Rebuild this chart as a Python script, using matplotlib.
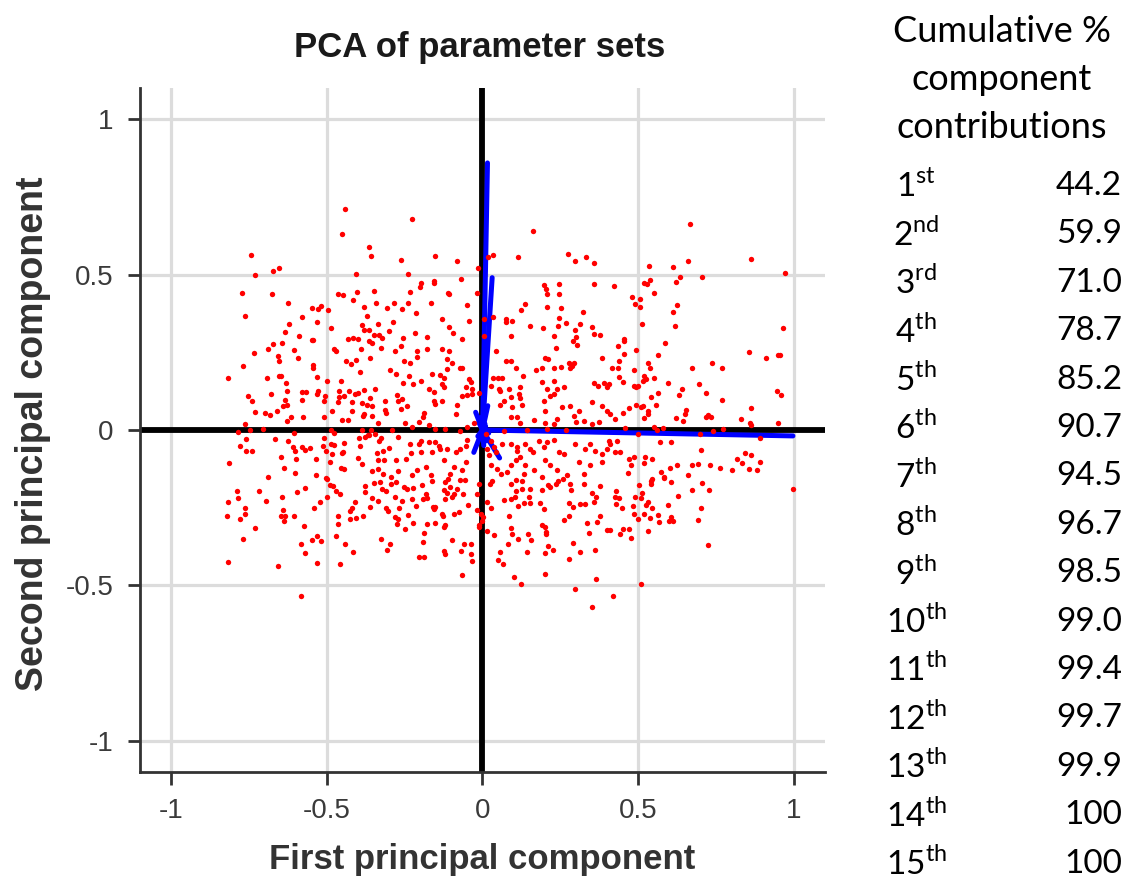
import numpy as np
import matplotlib.pyplot as plt

plt.rcParams['font.family'] = ['Liberation Sans', 'DejaVu Sans']
plt.rcParams['mathtext.fontset'] = 'custom'
plt.rcParams['mathtext.rm'] = 'Lato'

# PCA scores of the parameter sets (first, second component)
scores = [
    # upper left
    (-0.442, 0.71), (-0.225, 0.678), (-0.45, 0.63), (-0.366, 0.588), (-0.358, 0.559), (-0.261, 0.546),
    (-0.744, 0.562), (-0.732, 0.50), (-0.674, 0.511), (-0.652, 0.52), (-0.406, 0.502), (-0.24, 0.503),
    (-0.774, 0.44), (-0.677, 0.436), (-0.625, 0.409), (-0.764, 0.367), (-0.464, 0.438), (-0.449, 0.435),
    (-0.403, 0.443), (-0.347, 0.446), (-0.233, 0.445), (-0.415, 0.417), (-0.379, 0.397), (-0.341, 0.408),
    (-0.284, 0.41), (-0.24, 0.409), (-0.546, 0.392), (-0.528, 0.388), (-0.519, 0.399), (-0.495, 0.385),
    (-0.308, 0.391), (-0.26, 0.388), (-0.581, 0.363), (-0.623, 0.342), (-0.531, 0.347), (-0.372, 0.366),
    (-0.387, 0.339), (-0.337, 0.341), (-0.287, 0.346), (-0.487, 0.327), (-0.635, 0.316), (-0.588, 0.303),
    (-0.379, 0.322), (-0.364, 0.323), (-0.301, 0.318), (-0.254, 0.296), (-0.218, 0.313), (-0.432, 0.294),
    (-0.417, 0.296), (-0.399, 0.292), (-0.348, 0.305), (-0.331, 0.305), (-0.324, 0.296), (-0.546, 0.289),
    # upper middle
    (0.163, 0.639), (-0.153, 0.561), (-0.083, 0.544), (0.018, 0.558), (0.034, 0.563), (0.115, 0.558),
    (0.273, 0.567), (0.297, 0.545), (0.332, 0.556), (0.357, 0.537), (-0.013, 0.521), (-0.196, 0.473),
    (-0.201, 0.461), (-0.156, 0.48), (-0.156, 0.474), (-0.07, 0.487), (-0.111, 0.441), (-0.108, 0.438),
    (-0.017, 0.44), (0.198, 0.466), (0.205, 0.452), (0.207, 0.437), (0.247, 0.471), (0.247, 0.438),
    (0.359, 0.468), (-0.164, 0.409), (-0.051, 0.403), (0.138, 0.406), (0.123, 0.385), (0.207, 0.396),
    (0.251, 0.392), (0.322, 0.38), (-0.213, 0.376), (-0.13, 0.356), (-0.043, 0.352), (0.006, 0.356),
    (0.033, 0.364), (0.075, 0.356), (0.074, 0.347), (0.095, 0.349), (0.245, 0.36), (0.267, 0.345),
    (0.314, 0.34), (0.154, 0.333), (0.194, 0.327), (0.241, 0.335), (0.351, 0.331), (-0.109, 0.332),
    (-0.096, 0.313), (-0.177, 0.30), (-0.065, 0.292), (0.006, 0.302), (0.09, 0.303), (0.231, 0.302),
    (0.3, 0.3), (0.296, 0.321), (0.357, 0.31), (0.377, 0.304),
    # upper right
    (0.668, 0.663), (0.863, 0.55), (0.971, 0.505), (0.534, 0.527), (0.611, 0.524), (0.66, 0.543),
    (0.634, 0.493), (0.621, 0.477), (0.706, 0.493), (0.421, 0.463), (0.518, 0.473), (0.527, 0.468),
    (0.537, 0.483), (0.552, 0.442), (0.48, 0.427), (0.507, 0.421), (0.49, 0.406), (0.507, 0.395),
    (0.625, 0.402), (0.612, 0.378), (0.512, 0.34), (0.619, 0.335), (0.964, 0.329), (0.455, 0.292),
    # centre left
    (-0.544, 0.288), (-0.674, 0.278), (-0.644, 0.279), (-0.69, 0.262), (-0.735, 0.249), (-0.607, 0.256),
    (-0.477, 0.262), (-0.469, 0.254), (-0.39, 0.261), (-0.364, 0.286), (-0.354, 0.281), (-0.327, 0.265),
    (-0.28, 0.254), (-0.263, 0.271), (-0.657, 0.238), (-0.655, 0.222), (-0.77, 0.206), (-0.592, 0.233),
    (-0.543, 0.208), (-0.543, 0.201), (-0.438, 0.222), (-0.423, 0.211), (-0.407, 0.224), (-0.393, 0.187),
    (-0.362, 0.233), (-0.298, 0.193), (-0.278, 0.179), (-0.252, 0.222), (-0.233, 0.215), (-0.816, 0.168),
    (-0.692, 0.166), (-0.655, 0.174), (-0.647, 0.174), (-0.53, 0.169), (-0.5, 0.158), (-0.454, 0.158),
    (-0.631, 0.152), (-0.236, 0.173), (-0.254, 0.152), (-0.224, 0.148), (-0.752, 0.11), (-0.68, 0.116),
    (-0.627, 0.126), (-0.58, 0.123), (-0.568, 0.123), (-0.532, 0.117), (-0.528, 0.124), (-0.505, 0.11),
    (-0.461, 0.126), (-0.462, 0.107), (-0.444, 0.11), (-0.428, 0.126), (-0.411, 0.115), (-0.4, 0.119),
    (-0.38, 0.129), (-0.345, 0.131), (-0.273, 0.112), (-0.257, 0.099), (-0.741, 0.092), (-0.634, 0.096),
    (-0.64, 0.078), (-0.628, 0.079), (-0.58, 0.095), (-0.51, 0.094), (-0.465, 0.091), (-0.42, 0.091),
    (-0.388, 0.087), (-0.37, 0.08), (-0.354, 0.076), (-0.362, 0.102), (-0.314, 0.094), (-0.314, 0.064),
    (-0.311, 0.055), (-0.27, 0.094), (-0.263, 0.068), (-0.242, 0.078), (-0.73, 0.059), (-0.699, 0.054),
    (-0.683, 0.048), (-0.659, 0.061), (-0.615, 0.041), (-0.628, 0.028), (-0.578, 0.043), (-0.51, 0.043),
    (-0.482, 0.061), (-0.419, 0.06), (-0.45, 0.031), (-0.432, 0.032), (-0.385, 0.046), (-0.379, 0.051),
    (-0.354, 0.046), (-0.335, 0.023), (-0.25, 0.021), (-0.226, 0.011), (-0.764, 0.019), (-0.786, -0.008),
    (-0.747, 0.0), (-0.706, 0.002), (-0.607, -0.01), (-0.487, 0.0), (-0.477, -0.01), (-0.388, 0.0),
    (-0.357, 0.0), (-0.363, -0.016), (-0.292, 0.0), (-0.759, -0.03), (-0.778, -0.053), (-0.758, -0.066),
    (-0.74, -0.066), (-0.666, -0.028), (-0.624, -0.035), (-0.608, -0.056), (-0.601, -0.066), (-0.581, -0.056),
    (-0.569, -0.064), (-0.554, -0.058), (-0.51, -0.026), (-0.511, -0.053), (-0.503, -0.068), (-0.487, -0.045),
    (-0.476, -0.047), (-0.446, -0.043), (-0.447, -0.07), (-0.452, -0.075), (-0.482, -0.077), (-0.397, -0.027),
    (-0.376, -0.021), (-0.367, -0.016), (-0.393, -0.053), (-0.345, -0.013), (-0.332, -0.036), (-0.325, -0.027),
    (-0.3, -0.058), (-0.338, -0.075), (-0.321, -0.069), (-0.27, -0.021), (-0.232, -0.045), (-0.231, -0.075),
    (-0.813, -0.107), (-0.647, -0.087), (-0.636, -0.122), (-0.599, -0.093), (-0.534, -0.093), (-0.49, -0.103),
    (-0.456, -0.121), (-0.444, -0.125), (-0.401, -0.091), (-0.388, -0.11), (-0.356, -0.133), (-0.337, -0.098),
    (-0.316, -0.098), (-0.335, -0.125), (-0.277, -0.096), (-0.247, -0.093), (-0.27, -0.131), (-0.601, -0.139),
    (-0.69, -0.15), (-0.534, -0.146), (-0.503, -0.154), (-0.318, -0.141), (-0.295, -0.15), (-0.226, -0.146),
    # centre
    (-0.209, 0.254), (-0.177, 0.259), (-0.129, 0.259), (-0.108, 0.254), (-0.113, 0.228), (-0.097, 0.217),
    (-0.113, 0.196), (-0.072, 0.201), (-0.065, 0.198), (-0.209, 0.235), (-0.161, 0.179), (-0.137, 0.176),
    (-0.124, 0.168), (-0.129, 0.147), (-0.199, 0.158), (-0.044, 0.164), (-0.038, 0.153), (-0.054, 0.137),
    (-0.049, 0.113), (-0.033, 0.117), (-0.033, 0.131), (-0.065, 0.109), (-0.172, 0.131), (-0.156, 0.121),
    (-0.124, 0.137), (-0.156, 0.094), (-0.154, 0.083), (-0.129, 0.094), (-0.081, 0.08), (-0.012, 0.12),
    (0.042, 0.254), (0.074, 0.222), (0.09, 0.222), (0.106, 0.201), (0.034, 0.166), (0.049, 0.166),
    (0.063, 0.166), (0.026, 0.142), (0.052, 0.131), (0.057, 0.126), (0.084, 0.131), (0.122, 0.137),
    (0.09, 0.107), (0.117, 0.115), (0.122, 0.104), (0.13, 0.174), (0.173, 0.193), (0.191, 0.201),
    (0.202, 0.231), (0.21, 0.227), (0.229, 0.201), (0.252, 0.203), (0.277, 0.217), (0.287, 0.207),
    (0.28, 0.201), (0.293, 0.217), (0.236, 0.264), (0.29, 0.286), (0.303, 0.275), (0.383, 0.231),
    (0.191, 0.154), (0.207, 0.131), (0.229, 0.158), (0.239, 0.131), (0.261, 0.137), (0.218, 0.109),
    (0.229, 0.115), (0.357, 0.15), (0.371, 0.14), (0.389, 0.15), (0.4, 0.139), (0.352, 0.089),
    (0.383, 0.078), (0.4, 0.062), (0.057, 0.079), (0.07, 0.094), (0.095, 0.073), (0.127, 0.079),
    (0.197, 0.094), (0.2, 0.062), (0.255, 0.074), (0.282, 0.076), (0.309, 0.062), (0.293, 0.044),
    (-0.188, 0.056), (-0.19, 0.042), (-0.086, 0.051), (-0.172, 0.017), (-0.204, 0.025), (-0.151, 0.003),
    (-0.119, 0.003), (-0.071, -0.002), (-0.049, 0.011), (-0.028, 0.022), (0.09, 0.041), (0.111, 0.041),
    (0.122, 0.022), (0.165, 0.032), (0.202, 0.022), (0.229, 0.02), (0.239, 0.036), (0.269, 0.0),
    (0.301, 0.025), (0.325, 0.03), (0.352, 0.02), (0.373, 0.025), (0.068, -0.002), (0.143, 0.0),
    (0.207, 0.003), (-0.199, -0.034), (-0.204, -0.045), (-0.172, -0.04), (-0.151, -0.04), (-0.14, -0.05),
    (-0.135, -0.061), (-0.199, -0.072), (-0.161, -0.072), (-0.113, -0.061), (-0.086, -0.072), (-0.071, -0.061),
    (-0.054, -0.05), (-0.049, -0.032), (-0.183, -0.12), (-0.209, -0.13), (-0.124, -0.098), (-0.092, -0.12),
    (-0.065, -0.13), (-0.054, -0.104), (-0.167, -0.146), (-0.104, -0.141), (0.026, -0.034), (0.036, -0.056),
    (0.042, -0.072), (0.063, -0.045), (0.09, -0.045), (0.111, -0.056), (0.111, -0.066), (0.138, -0.045),
    (0.122, -0.088), (0.106, -0.098), (0.154, -0.061), (0.162, -0.072), (0.181, -0.034), (0.197, -0.056),
    (0.207, -0.04), (0.229, -0.032), (0.245, -0.072), (0.261, -0.077), (0.202, -0.096), (0.218, -0.114),
    (0.239, -0.13), (0.138, -0.114), (0.165, -0.13), (0.133, -0.141), (0.047, -0.125), (0.058, -0.141),
    (0.079, -0.136), (0.09, -0.114), (0.026, -0.114), (0.298, -0.045), (0.33, -0.061), (0.346, -0.045),
    (0.362, -0.066), (0.383, -0.077), (0.4, -0.061), (0.309, -0.104), (0.346, -0.114), (0.383, -0.104),
    (0.325, -0.141), (0.02, -0.082), (0.015, -0.061), (0.01, -0.013), (0.191, -0.151), (0.271, -0.146),
    # centre right
    (0.435, 0.27), (0.455, 0.286), (0.494, 0.257), (0.587, 0.281), (0.456, 0.245), (0.563, 0.24),
    (0.437, 0.222), (0.416, 0.2), (0.435, 0.198), (0.531, 0.215), (0.538, 0.201), (0.485, 0.194),
    (0.674, 0.199), (0.736, 0.215), (0.77, 0.198), (0.856, 0.252), (0.909, 0.23), (0.948, 0.24),
    (0.955, 0.241), (0.44, 0.172), (0.45, 0.155), (0.52, 0.174), (0.524, 0.164), (0.514, 0.158),
    (0.552, 0.166), (0.485, 0.142), (0.501, 0.142), (0.494, 0.137), (0.405, 0.147), (0.597, 0.15),
    (0.642, 0.131), (0.632, 0.113), (0.696, 0.147), (0.718, 0.118), (0.768, 0.097), (0.946, 0.124),
    (0.96, 0.112), (0.542, 0.105), (0.565, 0.119), (0.557, 0.081), (0.492, 0.081), (0.509, 0.075),
    (0.514, 0.077), (0.469, 0.07), (0.452, 0.054), (0.41, 0.051), (0.531, 0.062), (0.533, 0.053),
    (0.52, 0.038), (0.654, 0.065), (0.651, 0.051), (0.622, 0.038), (0.643, 0.03), (0.718, 0.041),
    (0.723, 0.047), (0.734, 0.043), (0.862, 0.07), (0.83, 0.035), (0.859, 0.024), (0.861, 0.016),
    (0.949, 0.024), (0.426, 0.035), (0.458, 0.008), (0.552, 0.01), (0.562, 0.001), (0.581, 0.005),
    (0.499, -0.013), (0.697, -0.014), (0.739, -0.003), (0.771, 0.004), (0.892, -0.026), (0.407, -0.035),
    (0.409, -0.045), (0.431, -0.035), (0.57, -0.037), (0.606, -0.037), (0.702, -0.064), (0.426, -0.072),
    (0.442, -0.07), (0.469, -0.093), (0.485, -0.088), (0.522, -0.086), (0.544, -0.093), (0.843, -0.075),
    (0.862, -0.08), (0.816, -0.093), (0.832, -0.107), (0.891, -0.102), (0.477, -0.111), (0.52, -0.107),
    (0.624, -0.111), (0.602, -0.122), (0.672, -0.114), (0.693, -0.109), (0.731, -0.114), (0.763, -0.122),
    (0.8, -0.13), (0.856, -0.125), (0.881, -0.128), (0.466, -0.139), (0.574, -0.136), (0.584, -0.15),
    (0.659, -0.146), (0.544, -0.157),
    # lower left
    (-0.5, -0.157), (-0.49, -0.176), (-0.48, -0.181), (-0.47, -0.197), (-0.458, -0.205), (-0.377, -0.181),
    (-0.377, -0.2), (-0.348, -0.171), (-0.33, -0.168), (-0.322, -0.189), (-0.311, -0.195), (-0.295, -0.173),
    (-0.279, -0.168), (-0.252, -0.184), (-0.241, -0.191), (-0.223, -0.186), (-0.788, -0.195), (-0.719, -0.197),
    (-0.784, -0.218), (-0.816, -0.232), (-0.694, -0.227), (-0.644, -0.214), (-0.596, -0.201), (-0.569, -0.185),
    (-0.521, -0.231), (-0.542, -0.251), (-0.5, -0.216), (-0.356, -0.218), (-0.335, -0.227), (-0.409, -0.232),
    (-0.418, -0.25), (-0.426, -0.259), (-0.362, -0.248), (-0.311, -0.251), (-0.303, -0.262), (-0.281, -0.216),
    (-0.26, -0.228), (-0.268, -0.25), (-0.226, -0.221), (-0.764, -0.252), (-0.762, -0.271), (-0.82, -0.278),
    (-0.778, -0.286), (-0.642, -0.258), (-0.647, -0.275), (-0.635, -0.278), (-0.637, -0.294), (-0.607, -0.275),
    (-0.465, -0.275), (-0.426, -0.287), (-0.407, -0.282), (-0.384, -0.275), (-0.464, -0.303), (-0.282, -0.28),
    (-0.27, -0.285), (-0.275, -0.301), (-0.238, -0.273), (-0.223, -0.299), (-0.249, -0.317), (-0.73, -0.314),
    (-0.572, -0.31), (-0.768, -0.35), (-0.531, -0.341), (-0.546, -0.355), (-0.518, -0.358), (-0.469, -0.34),
    (-0.583, -0.368), (-0.569, -0.396), (-0.441, -0.367), (-0.415, -0.391), (-0.325, -0.35), (-0.298, -0.368),
    (-0.307, -0.386), (-0.818, -0.423), (-0.656, -0.439), (-0.53, -0.428), (-0.459, -0.432), (-0.582, -0.535),
    # lower middle
    (-0.193, -0.178), (-0.183, -0.205), (-0.19, -0.221), (-0.177, -0.218), (-0.215, -0.245), (-0.161, -0.163),
    (-0.119, -0.168), (-0.111, -0.157), (-0.103, -0.184), (-0.124, -0.194), (-0.115, -0.203), (-0.121, -0.221),
    (-0.097, -0.216), (-0.092, -0.205), (-0.081, -0.189), (-0.071, -0.16), (-0.055, -0.162), (-0.062, -0.207),
    (-0.019, -0.205), (-0.012, -0.173), (-0.158, -0.248), (-0.151, -0.248), (-0.156, -0.253), (-0.179, -0.301),
    (-0.153, -0.298), (-0.129, -0.269), (-0.126, -0.278), (-0.119, -0.307), (-0.124, -0.312), (-0.092, -0.269),
    (-0.074, -0.264), (-0.047, -0.242), (-0.017, -0.256), (-0.006, -0.269), (0.002, -0.28), (-0.001, -0.293),
    (-0.012, -0.307), (-0.012, -0.312), (-0.188, -0.331), (-0.19, -0.36), (-0.204, -0.41), (-0.188, -0.408),
    (-0.124, -0.389), (-0.119, -0.4), (-0.099, -0.355), (-0.068, -0.39), (-0.058, -0.368), (-0.038, -0.368),
    (-0.038, -0.4), (-0.033, -0.422), (-0.065, -0.467), (0.029, -0.163), (0.023, -0.173), (0.09, -0.173),
    (0.106, -0.162), (0.127, -0.165), (0.127, -0.189), (0.152, -0.189), (0.109, -0.197), (0.103, -0.216),
    (0.09, -0.221), (0.068, -0.226), (0.015, -0.232), (0.028, -0.252), (0.149, -0.214), (0.152, -0.235),
    (0.133, -0.235), (0.115, -0.245), (0.191, -0.192), (0.209, -0.178), (0.218, -0.184), (0.244, -0.164),
    (0.237, -0.175), (0.258, -0.157), (0.282, -0.175), (0.285, -0.192), (0.325, -0.175), (0.351, -0.203),
    (0.359, -0.232), (0.378, -0.181), (0.364, -0.216), (0.33, -0.239), (0.314, -0.239), (0.29, -0.248),
    (0.277, -0.235), (0.186, -0.235), (0.197, -0.253), (0.084, -0.276), (0.092, -0.314), (0.095, -0.335),
    (0.113, -0.349), (0.036, -0.339), (0.015, -0.325), (0.145, -0.335), (0.156, -0.355), (0.191, -0.307),
    (0.202, -0.312), (0.205, -0.328), (0.205, -0.335), (0.261, -0.291), (0.277, -0.275), (0.335, -0.299),
    (0.367, -0.296), (0.376, -0.275), (0.341, -0.331), (0.401, -0.322), (0.082, -0.367), (0.055, -0.393),
    (0.049, -0.419), (0.066, -0.43), (0.143, -0.391), (0.209, -0.374), (0.226, -0.387), (0.202, -0.397),
    (0.29, -0.363), (0.312, -0.393), (0.36, -0.387), (0.277, -0.416), (0.1, -0.472), (0.2, -0.463),
    (0.124, -0.496), (0.364, -0.479), (0.296, -0.513), (0.352, -0.57),
    # lower right
    (0.584, -0.154), (0.541, -0.165), (0.541, -0.173), (0.605, -0.167), (0.504, -0.176), (0.704, -0.171),
    (0.674, -0.192), (0.728, -0.194), (0.428, -0.197), (0.424, -0.214), (0.439, -0.218), (0.512, -0.203),
    (0.51, -0.218), (0.49, -0.216), (0.627, -0.212), (0.996, -0.189), (0.428, -0.237), (0.447, -0.25),
    (0.483, -0.244), (0.526, -0.242), (0.533, -0.233), (0.544, -0.251), (0.595, -0.241), (0.701, -0.252),
    (0.488, -0.269), (0.501, -0.286), (0.52, -0.269), (0.539, -0.284), (0.563, -0.272), (0.567, -0.295),
    (0.6, -0.293), (0.607, -0.28), (0.611, -0.294), (0.693, -0.291), (0.408, -0.323), (0.451, -0.318),
    (0.471, -0.32), (0.441, -0.335), (0.476, -0.346), (0.533, -0.326), (0.724, -0.37), (0.508, -0.494),
    (0.42, -0.534),
]

# loading vectors of the 15 parameters on the first two components
loadings = [
    (0.997, -0.019), (0.016, 0.859), (0.031, 0.49), (0.055, -0.09), (-0.022, 0.057),
    (-0.028, -0.072), (0.017, 0.078), (0.012, -0.035), (-0.012, 0.025), (0.008, 0.02),
    (-0.015, -0.02), (0.02, -0.01), (-0.006, 0.04), (0.004, -0.05), (0.01, 0.012),
]

ordinals = ['1st', '2nd', '3rd', '4th', '5th', '6th', '7th', '8th',
            '9th', '10th', '11th', '12th', '13th', '14th', '15th']
cumulative = [44.2, 59.9, 71.0, 78.7, 85.2, 90.7, 94.5, 96.7,
              98.5, 99.0, 99.4, 99.7, 99.9, 100, 100]

W, H = 1137, 881
fig = plt.figure(figsize=(W / 100, H / 100), dpi=100)
ax = fig.add_axes([140 / W, 1 - 772 / H, 685 / W, 684 / H])

sc = np.array(scores)
ld = np.array(loadings)

ax.set_xlim(-1.1, 1.1)
ax.set_ylim(-1.1, 1.1)
ticks = [-1, -0.5, 0, 0.5, 1]
ax.set_xticks(ticks)
ax.set_yticks(ticks)
ax.set_xticklabels(['-1', '-0.5', '0', '0.5', '1'])
ax.set_yticklabels(['-1', '-0.5', '0', '0.5', '1'])
ax.grid(True, color='#dcdcdc', linewidth=2.3, zorder=0)
ax.set_axisbelow(True)

for s in ['top', 'right']:
    ax.spines[s].set_visible(False)
for s in ['left', 'bottom']:
    ax.spines[s].set_linewidth(2)
    ax.spines[s].set_color('#333333')
ax.tick_params(direction='out', length=9, width=2, color='#333333',
               labelsize=20, pad=10, labelcolor='#3a3a3a')

# zero axes
ax.axhline(0, color='black', linewidth=4.2, zorder=2)
ax.axvline(0, color='black', linewidth=4.2, zorder=2)

# loadings
for lx, ly in ld:
    ax.plot([0, lx], [0, ly], color='#0000ff', linewidth=3.6,
            solid_capstyle='round', zorder=3)

# scores
ax.scatter(sc[:, 0], sc[:, 1], s=15, color='#ff0000', linewidths=0, zorder=4)

fig.text(480 / W, 1 - 47 / H, 'PCA of parameter sets', fontsize=25,
         fontweight='bold', ha='center', va='center', color='#1a1a1a')
fig.text(482 / W, 1 - 859 / H, 'First principal component', fontsize=25,
         fontweight='bold', ha='center', va='center', color='#333333')
fig.text(33 / W, 1 - 434 / H, 'Second principal component', fontsize=27,
         fontweight='bold', ha='center', va='center', rotation=90, color='#333333')

# table of cumulative contributions
tfont = dict(family=['Lato', 'DejaVu Sans'], fontsize=24, color='black')
for i, line in enumerate(['Cumulative %', 'component', 'contributions']):
    fig.text(1002 / W, 1 - (31 + 48.5 * i) / H, line, ha='center', va='center',
             family=['Lato', 'DejaVu Sans'], fontsize=26, color='black')

for i, (o, v) in enumerate(zip(ordinals, cumulative)):
    yy = 1 - (186 + 48.4 * i) / H
    num, suf = o[:-2], o[-2:]
    fig.text(916 / W, yy, num + r'$^{\mathrm{' + suf + '}}$', ha='center', va='center', **tfont)
    label = '100' if v == 100 else f'{v:.1f}'
    fig.text(1122 / W, yy, label, ha='right', va='center', **tfont)

plt.savefig('out.png', dpi=100)
